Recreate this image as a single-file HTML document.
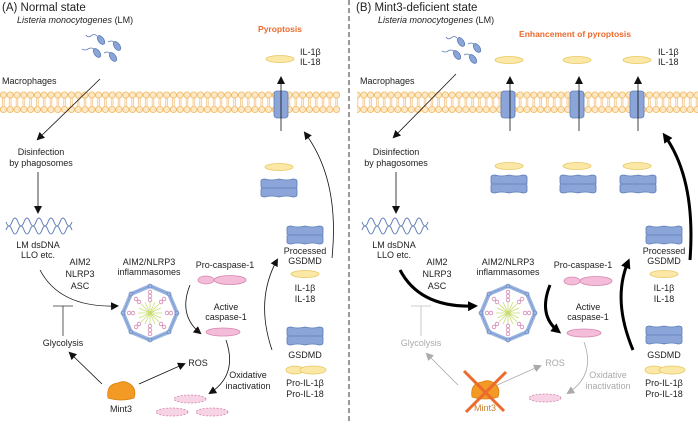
<!DOCTYPE html>
<html><head><meta charset="utf-8"><style>
html,body{margin:0;padding:0;background:#fff}
svg{display:block}
text{font-family:"Liberation Sans",sans-serif;font-size:9px;fill:#222}
.g{fill:#aaa}
</style></head><body>
<svg width="698" height="424" viewBox="0 0 698 424" xmlns="http://www.w3.org/2000/svg">
<defs>
<pattern id="mem" x="0" y="88" width="6.8" height="28" patternUnits="userSpaceOnUse">
<line x1="2.6" y1="10" x2="2.6" y2="18" stroke="#f3c078" stroke-width="0.8"/>
<line x1="4.2" y1="10" x2="4.2" y2="18" stroke="#f3c078" stroke-width="0.8"/>
<circle cx="3.4" cy="7" r="3.1" fill="#fde9c6" stroke="#f1b760" stroke-width="0.8"/>
<circle cx="3.4" cy="21.5" r="3.1" fill="#fde9c6" stroke="#f1b760" stroke-width="0.8"/>
</pattern>
<marker id="ah" markerWidth="8" markerHeight="8" refX="6" refY="4" orient="auto" markerUnits="userSpaceOnUse"><path d="M0,0 L8,4 L0,8 Z" fill="#111"/></marker>
<marker id="ahb" markerWidth="10" markerHeight="10" refX="6" refY="5" orient="auto" markerUnits="userSpaceOnUse"><path d="M0,0 L10,5 L0,10 Z" fill="#000"/></marker>
<marker id="ahg" markerWidth="8" markerHeight="8" refX="6" refY="4" orient="auto" markerUnits="userSpaceOnUse"><path d="M0,0 L8,4 L0,8 Z" fill="#aaa"/></marker>
<g id="yel"><ellipse cx="0" cy="0" rx="14" ry="3.5" fill="#fbe7a6" stroke="#e8c860" stroke-width="0.8"/></g>
<g id="gs"><path d="M-18,-7 Q-18,-9 -14,-9 Q-8,-7 0,-9 Q8,-7 14,-9 Q18,-9 18,-7 L18,-1 Q18,0 17,0 L18,1 L18,7 Q18,9 14,9 Q8,7 0,9 Q-8,7 -14,9 Q-18,9 -18,7 L-18,1 L-17,0 L-18,-1 Z" fill="#8ba5d8" stroke="#5d7cb8" stroke-width="0.8"/><line x1="-17" y1="0" x2="17" y2="0" stroke="#5d7cb8" stroke-width="0.8"/></g>
<g id="ch"><rect x="-7" y="-13" width="14" height="27" rx="3" fill="#8ba5d8" stroke="#5d7cb8" stroke-width="0.8"/></g>
<g id="proil"><ellipse cx="-8" cy="0" rx="9" ry="4" fill="#fbe7a6" stroke="#e8c860" stroke-width="0.8"/><ellipse cx="10" cy="0" rx="13" ry="4" fill="#fbe7a6" stroke="#e8c860" stroke-width="0.8"/></g>
<g id="procas"><ellipse cx="-16" cy="0" rx="8" ry="4" fill="#f4bcd8" stroke="#d585b0" stroke-width="0.8"/><ellipse cx="8" cy="0" rx="16" ry="4.5" fill="#f4bcd8" stroke="#d585b0" stroke-width="0.8"/></g>
<g id="act"><ellipse cx="0" cy="0" rx="17" ry="4" fill="#f4bcd8" stroke="#d585b0" stroke-width="0.8"/></g>
<g id="dash"><ellipse cx="0" cy="0" rx="16" ry="4" fill="#f7d3e6" stroke="#d585b0" stroke-width="0.8" stroke-dasharray="2,1.5"/></g>
<g id="bac" stroke="#5d7cb8" stroke-width="0.8" fill="#8ba5d8">
<ellipse cx="14" cy="7" rx="2.8" ry="5" transform="rotate(-35 14 7)"/><path d="M10,3 q-3,-3 -6,0 q-3,2 -5,-1" fill="none"/>
<ellipse cx="30" cy="13" rx="2.8" ry="5" transform="rotate(-35 30 13)"/><path d="M27,9 q-3,-2 -6,0" fill="none"/>
<ellipse cx="10" cy="20" rx="2.8" ry="5" transform="rotate(-35 10 20)"/><path d="M7,16 q-3,-2 -6,0 q-3,2 -6,0" fill="none"/>
<ellipse cx="26" cy="24" rx="2.8" ry="5" transform="rotate(-35 26 24)"/><path d="M23,20 q-3,-2 -6,0" fill="none"/>
</g>
<g id="dna" fill="none" stroke="#5d7cb8" stroke-width="1">
<path d="M0,0 q3,8 6,0 t6,0 t6,0 t6,0 t6,0 t6,0 t6,0 t6,0 t6,0 t6,0 t6,0"/>
<path d="M0,8 q3,-8 6,0 t6,0 t6,0 t6,0 t6,0 t6,0 t6,0 t6,0 t6,0 t6,0 t6,0"/>
</g>
<g id="infl">
<g stroke="#c8dc70" stroke-width="0.8"><line x1="-12" y1="0" x2="12" y2="0"/><line x1="0" y1="-12" x2="0" y2="12"/><line x1="-9" y1="-9" x2="9" y2="9"/><line x1="-9" y1="9" x2="9" y2="-9"/><line x1="-11" y1="-5" x2="11" y2="5"/><line x1="-11" y1="5" x2="11" y2="-5"/><line x1="-5" y1="-11" x2="5" y2="11"/><line x1="5" y1="-11" x2="-5" y2="11"/></g>
<polygon points="0,-27 19,-19 27,0 19,19 0,27 -19,19 -27,0 -19,-19" fill="none" stroke="#9bb5e0" stroke-width="4"/>
<polygon points="0,-27 19,-19 27,0 19,19 0,27 -19,19 -27,0 -19,-19" fill="none" stroke="#6f8fcc" stroke-width="0.6"/>
<g fill="#fff" stroke="#d585b0" stroke-width="0.8">
<circle cx="0" cy="-21" r="1.8"/><circle cx="0" cy="-17" r="1.8"/><circle cx="0" cy="-13" r="1.8"/>
<circle cx="0" cy="21" r="1.8"/><circle cx="0" cy="17" r="1.8"/><circle cx="0" cy="13" r="1.8"/>
<circle cx="-21" cy="0" r="1.8"/><circle cx="-17" cy="0" r="1.8"/><circle cx="21" cy="0" r="1.8"/><circle cx="17" cy="0" r="1.8"/>
<circle cx="14" cy="-14" r="1.8"/><circle cx="11" cy="-11" r="1.8"/><circle cx="-14" cy="14" r="1.8"/><circle cx="-11" cy="11" r="1.8"/>
<circle cx="-14" cy="-14" r="1.8"/><circle cx="-11" cy="-11" r="1.8"/><circle cx="14" cy="14" r="1.8"/><circle cx="11" cy="11" r="1.8"/>
</g>
<g fill="#9bb5e0" stroke="#5d7cb8" stroke-width="0.6"><circle cx="0" cy="-27" r="2"/><circle cx="19" cy="-19" r="2"/><circle cx="27" cy="0" r="2"/><circle cx="19" cy="19" r="2"/><circle cx="0" cy="27" r="2"/><circle cx="-19" cy="19" r="2"/><circle cx="-27" cy="0" r="2"/><circle cx="-19" cy="-19" r="2"/></g>
</g>
<g id="mint"><path d="M-13,6 Q-15,-8 -3,-9 Q3,-12 9,-8 Q16,-3 13,6 Q0,10 -13,6 Z" fill="#f39a25" stroke="#d97f10" stroke-width="0.8"/></g>
</defs>

<rect x="0" y="88" width="340" height="28" fill="url(#mem)"/>
<rect x="357" y="88" width="341" height="28" fill="url(#mem)"/>
<line x1="349" y1="0" x2="349" y2="424" stroke="#333" stroke-width="1" stroke-dasharray="5,3"/>

<!-- ===== Panel A ===== -->
<text x="2" y="11" style="font-size:11.5px">(A) Normal state</text>
<text x="17" y="23"><tspan font-style="italic">Listeria monocytogenes</tspan> (LM)</text>
<use href="#bac" x="87" y="33"/>
<text x="2" y="84">Macrophages</text>
<line x1="100" y1="79" x2="38" y2="139" stroke="#111" stroke-width="0.8" marker-end="url(#ah)"/>
<text x="41" y="155" text-anchor="middle">Disinfection</text>
<text x="41" y="166" text-anchor="middle">by phagosomes</text>
<line x1="38" y1="172" x2="38" y2="212" stroke="#111" stroke-width="0.8" marker-end="url(#ah)"/>
<use href="#dna" x="6" y="222"/>
<text x="38" y="248" text-anchor="middle">LM dsDNA</text>
<text x="38" y="258" text-anchor="middle">LLO etc.</text>
<text x="80" y="265" text-anchor="middle">AIM2</text>
<text x="80" y="277" text-anchor="middle">NLRP3</text>
<text x="80" y="289" text-anchor="middle">ASC</text>
<path d="M40,270 Q60,308 117,306" fill="none" stroke="#111" stroke-width="0.8" marker-end="url(#ah)"/>
<use href="#infl" x="150" y="313"/>
<text x="149" y="265" text-anchor="middle">AIM2/NLRP3</text>
<text x="149" y="275" text-anchor="middle">inflammasomes</text>
<text x="225" y="268" text-anchor="middle">Pro-caspase-1</text>
<use href="#procas" x="222" y="280"/>
<path d="M190,285 Q178,315 200,333" fill="none" stroke="#111" stroke-width="0.8" marker-end="url(#ah)"/>
<text x="226" y="310" text-anchor="middle">Active</text>
<text x="226" y="320" text-anchor="middle">caspase-1</text>
<use href="#act" x="223" y="332"/>
<line x1="63" y1="336" x2="63" y2="306" stroke="#333" stroke-width="0.8"/><line x1="53" y1="306" x2="73" y2="306" stroke="#333" stroke-width="0.8"/>
<text x="63" y="346" text-anchor="middle">Glycolysis</text>
<use href="#mint" x="121" y="392"/>
<text x="121" y="412" text-anchor="middle">Mint3</text>
<line x1="102" y1="384" x2="70" y2="353" stroke="#111" stroke-width="0.8" marker-end="url(#ah)"/>
<line x1="139" y1="384" x2="184" y2="364" stroke="#111" stroke-width="0.8" marker-end="url(#ah)"/>
<text x="198" y="366" text-anchor="middle">ROS</text>
<path d="M226,340 Q238,375 210,393" fill="none" stroke="#111" stroke-width="0.8" marker-end="url(#ah)"/>
<text x="248" y="378" text-anchor="middle">Oxidative</text>
<text x="248" y="389" text-anchor="middle">inactivation</text>
<use href="#dash" x="190" y="399"/><use href="#dash" x="172" y="412"/><use href="#dash" x="212" y="412"/>
<use href="#gs" x="305" y="235"/>
<text x="305" y="254" text-anchor="middle">Processed</text>
<text x="305" y="264" text-anchor="middle">GSDMD</text>
<use href="#yel" x="305" y="274"/>
<text x="305" y="291" text-anchor="middle">IL-1β</text>
<text x="305" y="302" text-anchor="middle">IL-18</text>
<use href="#gs" x="305" y="336"/>
<text x="305" y="358" text-anchor="middle">GSDMD</text>
<use href="#proil" x="303" y="370"/>
<text x="305" y="386" text-anchor="middle">Pro-IL-1β</text>
<text x="305" y="397" text-anchor="middle">Pro-IL-18</text>
<path d="M272,350 Q255,300 277,260" fill="none" stroke="#111" stroke-width="0.8" marker-end="url(#ah)"/>
<path d="M332,258 Q340,180 305,133" fill="none" stroke="#111" stroke-width="0.8" marker-end="url(#ah)"/>
<text x="280" y="32" text-anchor="middle" style="fill:#ec6a2c;font-weight:bold;font-size:8.5px">Pyroptosis</text>
<use href="#yel" x="280" y="59"/>
<text x="300" y="55">IL-1β</text><text x="300" y="65">IL-18</text>
<use href="#ch" x="281" y="104"/>
<line x1="281" y1="131" x2="281" y2="78" stroke="#111" stroke-width="0.8" marker-end="url(#ah)"/>
<use href="#yel" x="279" y="167"/>
<use href="#gs" x="279" y="188"/>

<!-- ===== Panel B ===== -->
<text x="356" y="11" style="font-size:11.5px">(B) Mint3-deficient state</text>
<text x="378" y="23"><tspan font-style="italic">Listeria monocytogenes</tspan> (LM)</text>
<use href="#bac" x="447" y="35"/>
<text x="360" y="84">Macrophages</text>
<line x1="456" y1="74" x2="394" y2="137" stroke="#111" stroke-width="0.8" marker-end="url(#ah)"/>
<text x="396" y="155" text-anchor="middle">Disinfection</text>
<text x="396" y="166" text-anchor="middle">by phagosomes</text>
<line x1="396" y1="172" x2="396" y2="212" stroke="#111" stroke-width="0.8" marker-end="url(#ah)"/>
<use href="#dna" x="362" y="222"/>
<text x="394" y="248" text-anchor="middle">LM dsDNA</text>
<text x="394" y="258" text-anchor="middle">LLO etc.</text>
<text x="437" y="265" text-anchor="middle">AIM2</text>
<text x="437" y="277" text-anchor="middle">NLRP3</text>
<text x="437" y="289" text-anchor="middle">ASC</text>
<path d="M400,270 Q420,308 474,306" fill="none" stroke="#000" stroke-width="3" marker-end="url(#ahb)"/>
<use href="#infl" x="508" y="313"/>
<text x="508" y="265" text-anchor="middle">AIM2/NLRP3</text>
<text x="508" y="275" text-anchor="middle">inflammasomes</text>
<text x="583" y="268" text-anchor="middle">Pro-caspase-1</text>
<use href="#procas" x="588" y="281"/>
<path d="M550,285 Q538,315 558,331" fill="none" stroke="#000" stroke-width="3" marker-end="url(#ahb)"/>
<text x="588" y="310" text-anchor="middle">Active</text>
<text x="588" y="320" text-anchor="middle">caspase-1</text>
<use href="#act" x="584" y="333"/>
<line x1="421" y1="336" x2="421" y2="306" stroke="#bbb" stroke-width="0.8"/><line x1="411" y1="306" x2="431" y2="306" stroke="#bbb" stroke-width="0.8"/>
<text x="421" y="346" text-anchor="middle" class="g">Glycolysis</text>
<line x1="458" y1="385" x2="427" y2="354" stroke="#aaa" stroke-width="0.8" marker-end="url(#ahg)"/>
<line x1="495" y1="386" x2="540" y2="366" stroke="#aaa" stroke-width="0.8" marker-end="url(#ahg)"/>
<use href="#mint" x="485" y="391"/>
<text x="485" y="411" text-anchor="middle" style="fill:#c98030">Mint3</text>
<line x1="464" y1="371" x2="504" y2="411" stroke="#ec6a2c" stroke-width="3"/>
<line x1="506" y1="372" x2="466" y2="412" stroke="#ec6a2c" stroke-width="3"/>
<text x="555" y="366" text-anchor="middle" class="g">ROS</text>
<path d="M584,342 Q596,375 568,393" fill="none" stroke="#aaa" stroke-width="0.8" marker-end="url(#ahg)"/>
<text x="608" y="378" text-anchor="middle" class="g">Oxidative</text>
<text x="608" y="389" text-anchor="middle" class="g">inactivation</text>
<use href="#dash" x="545" y="398"/>
<use href="#gs" x="664" y="235"/>
<text x="664" y="254" text-anchor="middle">Processed</text>
<text x="664" y="264" text-anchor="middle">GSDMD</text>
<use href="#yel" x="664" y="274"/>
<text x="664" y="291" text-anchor="middle">IL-1β</text>
<text x="664" y="302" text-anchor="middle">IL-18</text>
<use href="#gs" x="664" y="335"/>
<text x="664" y="358" text-anchor="middle">GSDMD</text>
<use href="#proil" x="662" y="370"/>
<text x="664" y="386" text-anchor="middle">Pro-IL-1β</text>
<text x="664" y="397" text-anchor="middle">Pro-IL-18</text>
<path d="M633,350 Q612,300 628,262" fill="none" stroke="#000" stroke-width="3" marker-end="url(#ahb)"/>
<path d="M690,260 Q696,180 665,136" fill="none" stroke="#000" stroke-width="3" marker-end="url(#ahb)"/>
<text x="575" y="37" text-anchor="middle" style="fill:#ec6a2c;font-weight:bold;font-size:8.5px">Enhancement of pyroptosis</text>
<use href="#yel" x="509" y="60"/><use href="#yel" x="577" y="60"/><use href="#yel" x="637" y="60"/>
<text x="658" y="55">IL-1β</text><text x="658" y="65">IL-18</text>
<use href="#ch" x="508" y="104"/><use href="#ch" x="577" y="104"/><use href="#ch" x="637" y="104"/>
<line x1="510" y1="131" x2="510" y2="78" stroke="#111" stroke-width="0.8" marker-end="url(#ah)"/>
<line x1="579" y1="131" x2="579" y2="78" stroke="#111" stroke-width="0.8" marker-end="url(#ah)"/>
<line x1="638" y1="131" x2="638" y2="78" stroke="#111" stroke-width="0.8" marker-end="url(#ah)"/>
<use href="#yel" x="509" y="166"/><use href="#yel" x="577" y="166"/><use href="#yel" x="637" y="166"/>
<use href="#gs" x="509" y="184"/><use href="#gs" x="578" y="184"/><use href="#gs" x="638" y="184"/>
</svg>
</body></html>
